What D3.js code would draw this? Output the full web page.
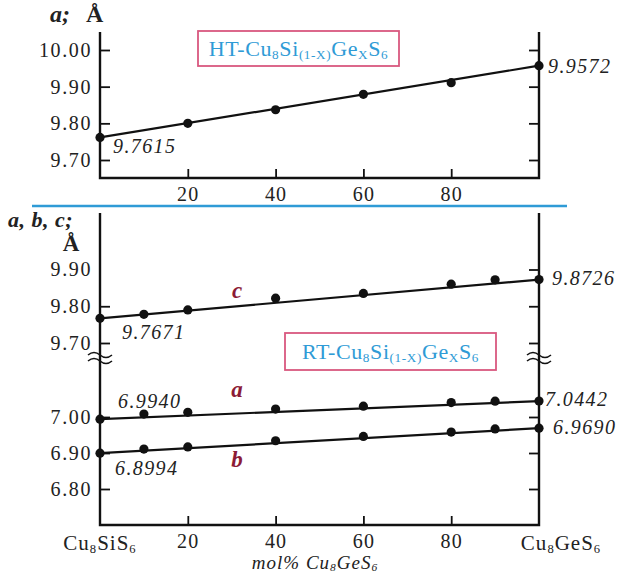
<!DOCTYPE html>
<html>
<head>
<meta charset="utf-8">
<script src="https://cdn.jsdelivr.net/npm/d3@7"></script>
<style>
  body { margin: 0; background: #fff; }
  svg, svg text { font-family: 'Liberation Serif', 'Times New Roman', serif; }
</style>
</head>
<body>
<div id="main"></div>
<script>
// HT phase, lattice parameter a
const htMol = [0, 20, 40, 60, 80, 100];
const htA = [9.7615, 9.800, 9.837, 9.879, 9.911, 9.9572];

// RT phase, lattice parameters a, b, c
const rtMol = [0, 10, 20, 40, 60, 80, 90, 100];
const rtC = [9.7671, 9.778, 9.790, 9.822, 9.835, 9.860, 9.872, 9.8726];
const rtA = [6.9940, 7.008, 7.013, 7.022, 7.030, 7.040, 7.044, 7.0442];
const rtB = [6.8994, 6.911, 6.917, 6.934, 6.946, 6.958, 6.967, 6.9690];

const xTicks = [20, 40, 60, 80];
const htTicks = [9.70, 9.80, 9.90, 10.00];
const rtHighTicks = [9.70, 9.80, 9.90];
const rtLowTicks = [6.80, 6.90, 7.00];

const width = 619;
const height = 576;
const serif = "'Liberation Serif', 'Times New Roman', serif";
const blue = '#2f9bd6';
const pink = '#d9587f';
const wine = '#8c1b36';

const svg = d3.select('#main').append('svg')
  .attr('width', width)
  .attr('height', height)
  .attr('font-family', serif);

const x = d3.scaleLinear().domain([0, 100]).range([100, 539]);
const yTop = d3.scaleLinear().domain([9.70, 10.00]).range([160, 50]);
const yHigh = d3.scaleLinear().domain([9.70, 9.90]).range([343, 269.5]);
const yLow = d3.scaleLinear().domain([6.80, 7.00]).range([489, 417]);

const fmt = d3.format('.2f');
const line = d3.line();

function frame(top, bottom) {
  svg.append('path')
    .attr('d', `M${x(0)},${top}V${bottom}H${x(100)}V${top}`)
    .attr('fill', 'none')
    .attr('stroke', '#111')
    .attr('stroke-width', 2.4);
}

function xAxis(y0) {
  const g = svg.append('g')
    .attr('transform', `translate(0,${y0})`)
    .call(d3.axisBottom(x).tickValues(xTicks).tickSizeInner(-9).tickSizeOuter(0).tickPadding(9))
    .attr('font-family', serif);
  g.select('.domain').remove();
  g.selectAll('line').attr('stroke', '#111').attr('stroke-width', 1.8);
  g.selectAll('text')
    .attr('font-size', 20)
    .attr('letter-spacing', 1.2)
    .attr('fill', '#222');
}

function yAxis(scale, ticks, leftTicks) {
  const gl = svg.append('g')
    .attr('transform', `translate(${x(0)},0)`)
    .call(d3.axisLeft(scale).tickValues(ticks).tickFormat(fmt)
      .tickSizeInner(-10).tickSizeOuter(0).tickPadding(8))
    .attr('font-family', serif);
  gl.select('.domain').remove();
  gl.selectAll('line')
    .attr('stroke', '#111').attr('stroke-width', 1.8)
    .attr('display', d => (leftTicks.includes(d) ? null : 'none'));
  gl.selectAll('text')
    .attr('font-size', 20)
    .attr('letter-spacing', 1.6)
    .attr('fill', '#222');

  const gr = svg.append('g')
    .attr('transform', `translate(${x(100)},0)`)
    .call(d3.axisRight(scale).tickValues(ticks).tickSizeInner(-10).tickSizeOuter(0).tickFormat(''));
  gr.select('.domain').remove();
  gr.selectAll('line').attr('stroke', '#111').attr('stroke-width', 1.8);
}

function series(xs, ys, scale) {
  const pts = xs.map((d, i) => [x(d), scale(ys[i])]);
  svg.append('path')
    .attr('d', line([pts[0], pts[pts.length - 1]]))
    .attr('fill', 'none')
    .attr('stroke', '#111')
    .attr('stroke-width', 2.2);
  svg.append('g').selectAll('circle')
    .data(pts)
    .enter()
    .append('circle')
    .attr('cx', d => d[0])
    .attr('cy', d => d[1])
    .attr('r', 4.6)
    .attr('fill', '#111');
}

function valueLabel(v, xv, scale, dx, dy) {
  svg.append('text')
    .attr('x', x(xv) + dx)
    .attr('y', scale(v) + dy)
    .attr('font-family', serif)
    .attr('font-size', 20)
    .attr('font-style', 'italic')
    .attr('letter-spacing', 1.4)
    .attr('fill', '#222')
    .text(v.toFixed(4));
}

function formula(parent, parts, size) {
  // parts: [text, 'n' | 'sub']
  parts.forEach(p => {
    const t = parent.append('tspan').text(p[0]);
    if (p[1] === 'sub') {
      t.attr('font-size', size * 0.6).attr('baseline-shift', '-22%');
    }
  });
}

function phaseBox(x0, y0, w, h, prefix) {
  svg.append('rect')
    .attr('x', x0).attr('y', y0)
    .attr('width', w).attr('height', h)
    .attr('fill', '#fff')
    .attr('stroke', pink)
    .attr('stroke-width', 1.8);
  const t = svg.append('text')
    .attr('x', x0 + w / 2)
    .attr('y', y0 + h / 2 + 7)
    .attr('text-anchor', 'middle')
    .attr('font-family', serif)
    .attr('font-size', 22)
    .attr('letter-spacing', 0.6)
    .attr('fill', blue);
  formula(t, [[prefix + '-Cu', 'n'], ['8', 'sub'], ['Si', 'n'], ['(1-X)', 'sub'], ['Ge', 'n'], ['X', 'sub'], ['S', 'n'], ['6', 'sub']], 22);
}

function breakMark(cx, cy) {
  const w = 'M-12,0 q6,-5 12,0 t12,0';
  [-3, 3].forEach(off => {
    svg.append('path')
      .attr('transform', `translate(${cx},${cy + off})`)
      .attr('d', w)
      .attr('fill', 'none')
      .attr('stroke', '#111')
      .attr('stroke-width', 1.6);
  });
}

// ---- top panel (HT) ----
frame(32, 178);
xAxis(178);
yAxis(yTop, htTicks, htTicks);
phaseBox(198, 31, 201, 35, 'HT');
series(htMol, htA, yTop);
valueLabel(htA[0], 0, yTop, 13, 16);
valueLabel(htA[htA.length - 1], 100, yTop, 9, 7);

const lblTop = svg.append('text').attr('x', 50).attr('y', 22)
  .attr('font-size', 24).attr('font-weight', 'bold').attr('fill', '#222');
lblTop.append('tspan').attr('font-style', 'italic').text('a;');
lblTop.append('tspan').attr('x', 86).text('Å');

// divider
svg.append('line')
  .attr('x1', 32).attr('x2', 567)
  .attr('y1', 206).attr('y2', 206)
  .attr('stroke', blue)
  .attr('stroke-width', 2.4);

// ---- bottom panel (RT) ----
frame(213, 525);
yAxis(yHigh, rtHighTicks, [9.70, 9.80]);
yAxis(yLow, rtLowTicks, rtLowTicks);
breakMark(x(0), 358);
breakMark(x(100), 358);
phaseBox(285, 333, 211, 37, 'RT');

series(rtMol, rtC, yHigh);
series(rtMol, rtA, yLow);
series(rtMol, rtB, yLow);

valueLabel(rtC[0], 0, yHigh, 22, 21);
valueLabel(rtC[rtC.length - 1], 100, yHigh, 13, 5);
valueLabel(rtA[0], 0, yLow, 18, -11);
valueLabel(rtA[rtA.length - 1], 100, yLow, 6, 5);
valueLabel(rtB[0], 0, yLow, 15, 22);
valueLabel(rtB[rtB.length - 1], 100, yLow, 14, 6);

[['c', 298], ['a', 397], ['b', 467]].forEach(d => {
  svg.append('text')
    .attr('x', 237).attr('y', d[1])
    .attr('text-anchor', 'middle')
    .attr('font-size', 23)
    .attr('font-weight', 'bold')
    .attr('font-style', 'italic')
    .attr('fill', wine)
    .text(d[0]);
});

xAxis(525);

svg.append('text').attr('x', 8).attr('y', 227)
  .attr('font-size', 22).attr('font-weight', 'bold').attr('font-style', 'italic').attr('fill', '#222')
  .attr('letter-spacing', 0.5)
  .text('a, b, c;');
svg.append('text').attr('x', 71).attr('y', 251)
  .attr('text-anchor', 'middle')
  .attr('font-size', 23).attr('font-weight', 'bold').attr('fill', '#222')
  .text('Å');

const endL = svg.append('text').attr('x', x(0)).attr('y', 550)
  .attr('text-anchor', 'middle').attr('font-size', 21).attr('letter-spacing', 1).attr('fill', '#222');
formula(endL, [['Cu', 'n'], ['8', 'sub'], ['SiS', 'n'], ['6', 'sub']], 21);

const endR = svg.append('text').attr('x', x(100) + 22).attr('y', 550)
  .attr('text-anchor', 'middle').attr('font-size', 21).attr('letter-spacing', 1).attr('fill', '#222');
formula(endR, [['Cu', 'n'], ['8', 'sub'], ['GeS', 'n'], ['6', 'sub']], 21);

const molT = svg.append('text').attr('x', 315).attr('y', 569)
  .attr('text-anchor', 'middle').attr('font-size', 19).attr('font-style', 'italic')
  .attr('letter-spacing', 1).attr('fill', '#222');
formula(molT, [['mol%  Cu', 'n'], ['8', 'sub'], ['GeS', 'n'], ['6', 'sub']], 19);
</script>
</body>
</html>
